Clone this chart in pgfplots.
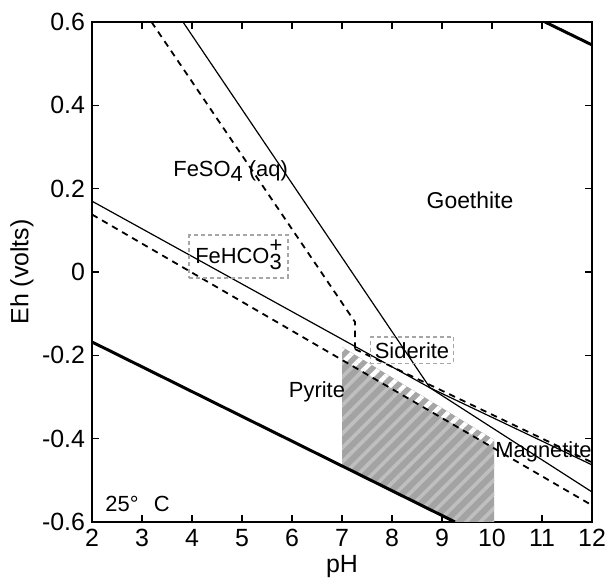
\documentclass[border=0pt]{standalone}
\usepackage{pgfplots}
\pgfplotsset{compat=1.18}
\usepackage{fontspec}
\setmainfont{Liberation Sans}
\usetikzlibrary{patterns.meta}

\begin{document}
\begin{tikzpicture}
\begin{axis}[
    name=ax,
    scale only axis,
    width=250bp, height=250bp,
    xmin=2, xmax=12, ymin=-0.6, ymax=0.6,
    xtick={2,3,...,12},
    ytick={-0.6,-0.4,-0.2,0,0.2,0.4,0.6},
    yticklabels={-0.6,-0.4,-0.2,0,0.2,0.4,0.6},
    tick align=inside,
    major tick length=3.5bp,
    tick style={black, line width=0.6bp},
    axis line style={line width=0.8bp},
    /pgf/number format/assume math mode=true,
    ticklabel style={font=\fontsize{12.5}{14}\selectfont},
    xlabel={pH}, ylabel={Eh (volts)},
    label style={font=\fontsize{12.5}{14}\selectfont},
    xlabel style={at={(axis description cs:0.5,-0.09)}, anchor=center},
    ylabel style={at={(axis description cs:-0.14,0.5)}, anchor=center},
    clip=true,
]
% pyrite field (hatched)
\addplot[draw=none, fill=gray!72] coordinates {(7,-0.18) (10.04,-0.403) (10.04,-0.6) (9.26,-0.6) (7,-0.464)} -- cycle;
\addplot[draw=none, pattern={Lines[angle=45,distance=5bp,line width=1.8bp]}, pattern color=gray!50]
    coordinates {(7,-0.18) (10.04,-0.403) (10.04,-0.6) (9.26,-0.6) (7,-0.464)} -- cycle;
% narrow band under the siderite field
\addplot[draw=none, fill=gray!70] coordinates {(7,-0.18) (10.04,-0.403) (10.04,-0.421) (7,-0.21)} -- cycle;
\addplot[draw=none, pattern={Lines[angle=45,distance=5bp,line width=2.2bp]}, pattern color=white]
    coordinates {(7,-0.18) (10.04,-0.403) (10.04,-0.421) (7,-0.21)} -- cycle;

% water stability limits
\addplot[black, line width=1.5bp] coordinates {(2,-0.168) (9.26,-0.6)};
\addplot[black, line width=1.5bp] coordinates {(11.06,0.6) (12,0.545)};

% solid boundaries
\addplot[black, line width=0.6bp] coordinates {(3.82,0.6) (8.76,-0.278)};
\addplot[black, line width=0.6bp] coordinates {(2,0.17) (8.76,-0.278)};
\addplot[black, line width=0.6bp] coordinates {(8.76,-0.278) (12,-0.463)};
\addplot[black, line width=0.6bp] coordinates {(8.76,-0.278) (12,-0.528)};

% dashed boundaries
\addplot[black, line width=0.9bp, dash pattern=on 3.2bp off 2.6bp] coordinates {(3.19,0.6) (7.26,-0.12) (7.26,-0.185)};
\addplot[black, line width=0.9bp, dash pattern=on 3.2bp off 2.6bp] coordinates {(7.26,-0.185) (12,-0.457)};
\addplot[black, line width=0.9bp, dash pattern=on 3.2bp off 2.6bp] coordinates {(2,0.138) (12,-0.56)};

% field labels
\begin{scope}[font=\fontsize{11}{13}\selectfont]
\node[anchor=base west, inner sep=0pt] at (axis cs:3.62,0.229) {FeSO\raisebox{-0.45ex}{4} (aq)};
\node[font=\fontsize{11.5}{13}\selectfont] at (axis cs:9.56,0.173) {Goethite};
\node[draw=gray!70, line width=0.8bp, dash pattern=on 2bp off 1.5bp, inner xsep=3bp, inner ysep=2.5bp,
      text height=2.2ex, text depth=0.9ex]
    at (axis cs:4.93,0.037) {FeHCO\rlap{\raisebox{0.95ex}{+}}\raisebox{-0.5ex}{3}\hspace{0.55em}};
\node[draw=gray!70, line width=0.8bp, dash pattern=on 2bp off 1.5bp, inner xsep=2.2bp, inner ysep=2.5bp]
    at (axis cs:8.4,-0.188) {Siderite};
\node at (axis cs:6.5,-0.288) {Pyrite};
\node[anchor=base west, inner sep=0pt] at (axis cs:10.06,-0.446) {Magnetite};
\node[anchor=base west, inner sep=0pt] at (axis cs:2.26,-0.575) {25°\hspace{0.7em}C};
\end{scope}
\end{axis}
\pgfresetboundingbox
\path ([xshift=-46bp,yshift=-28bp]ax.south west) rectangle ([xshift=9.5bp,yshift=11bp]ax.north east);
\end{tikzpicture}
\end{document}
